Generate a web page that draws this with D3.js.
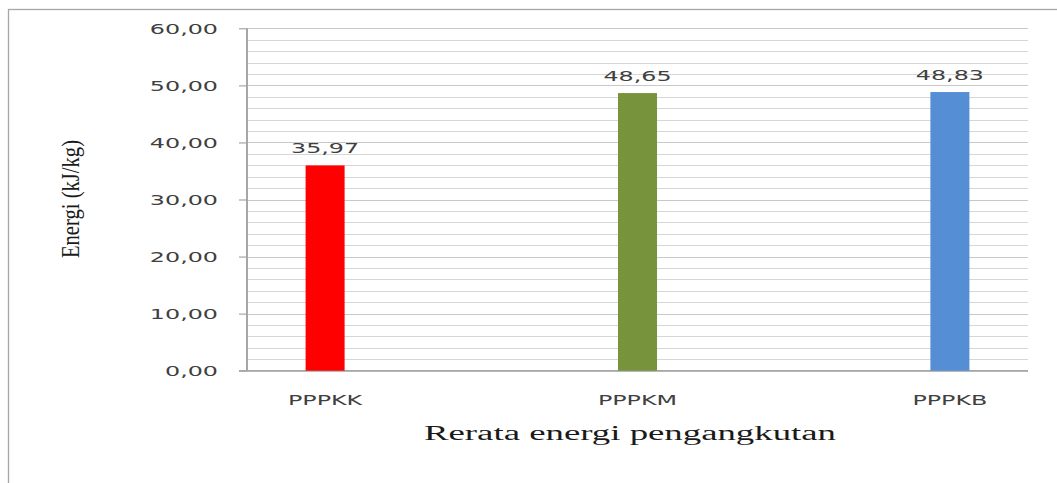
<!DOCTYPE html>
<html>
<head>
<meta charset="utf-8">
<script src="https://cdn.jsdelivr.net/npm/d3@7"></script>
<style>
  html, body { margin: 0; padding: 0; background: #fff; }
  svg { display: block; }
</style>
</head>
<body>
<svg id="chart" width="1057" height="483"></svg>
<script>
const categories = ["PPPKK", "PPPKM", "PPPKB"];
const values = [35.97, 48.65, 48.83];
const valueLabels = ["35,97", "48,65", "48,83"];
const barColors = ["#ff0000", "#77933c", "#558ed5"];
const yTicks = [0, 10, 20, 30, 40, 50, 60];
const yMinorTicks = d3.range(0, 60.001, 2);
const yTitle = "Energi (kJ/kg)";
const xTitle = "Rerata energi pengangkutan";

(function() {
const svg = d3.select("#chart");
const pL = 247, pR = 1028, pT = 28.3, pB = 370.7;
const sansStretch = 1.7;

function stretch(sel, f) {
  sel.each(function() {
    const w = this.getComputedTextLength();
    d3.select(this).attr("textLength", w * f).attr("lengthAdjust", "spacingAndGlyphs");
  });
}

// outer border
svg.append("rect").attr("x", 8.5).attr("y", 9.5).attr("width", 1200).attr("height", 600)
  .attr("fill", "none").attr("stroke", "#a6a6a6").attr("stroke-width", 1.3);

const y = d3.scaleLinear().domain([0, 60]).range([pB, pT]);
const x = d3.scalePoint().domain(categories).range([pL, pR]).padding(0.25);

// gridlines (minor every 2)
svg.append("g").selectAll("line").data(yMinorTicks).join("line")
  .attr("x1", pL).attr("x2", pR)
  .attr("y1", d => Math.round(y(d)) + 0.5).attr("y2", d => Math.round(y(d)) + 0.5)
  .attr("stroke", d => d % 10 === 0 ? "#c8c8c8" : "#d6d6d6").attr("stroke-width", 1.2);

// y axis
const yAxis = svg.append("g").attr("transform", `translate(${pL},0)`)
  .call(d3.axisLeft(y).tickValues(yTicks).tickSize(8).tickPadding(21)
    .tickFormat(d => d3.format(".2f")(d).replace(".", ",")));
yAxis.select(".domain").attr("stroke", "#a6a6a6").attr("stroke-width", 2).attr("d", `M0,${pT}V${pB}`);
yAxis.selectAll(".tick line").attr("stroke", "#a6a6a6").attr("stroke-width", 1.2);
yAxis.selectAll(".tick text").attr("fill", "#404040").attr("font-family", "DejaVu Sans")
  .attr("font-size", 14).attr("dy", "0.36em").call(stretch, sansStretch);

// x axis line
svg.append("line").attr("x1", pL - 8).attr("x2", pR)
  .attr("y1", pB).attr("y2", pB).attr("stroke", "#a6a6a6").attr("stroke-width", 1.5);

// bars
const bw = 39;
svg.append("g").selectAll("rect").data(values).join("rect")
  .attr("x", (d, i) => x(categories[i]) - bw / 2)
  .attr("width", bw)
  .attr("y", d => y(d))
  .attr("height", d => pB - y(d))
  .attr("fill", (d, i) => barColors[i]);

// value labels
svg.append("g").selectAll("text").data(values).join("text")
  .attr("x", (d, i) => x(categories[i]))
  .attr("y", d => y(d) - 12)
  .attr("text-anchor", "middle")
  .attr("font-family", "DejaVu Sans").attr("font-size", 14).attr("fill", "#404040")
  .text((d, i) => valueLabels[i])
  .call(stretch, sansStretch);

// category labels
svg.append("g").selectAll("text").data(categories).join("text")
  .attr("x", d => x(d)).attr("y", 405)
  .attr("text-anchor", "middle")
  .attr("font-family", "DejaVu Sans").attr("font-size", 14).attr("fill", "#404040")
  .text(d => d)
  .call(stretch, sansStretch);

// x title
svg.append("text").attr("x", 630).attr("y", 440).attr("text-anchor", "middle")
  .attr("font-family", "Liberation Serif").attr("font-size", 20).attr("fill", "#1a1a1a")
  .text(xTitle)
  .attr("textLength", 412).attr("lengthAdjust", "spacingAndGlyphs");

// y title
svg.append("text").attr("transform", "translate(79,199) rotate(-90)")
  .attr("text-anchor", "middle")
  .attr("font-family", "Liberation Serif").attr("font-size", 25).attr("fill", "#1a1a1a")
  .text(yTitle)
  .attr("textLength", 118).attr("lengthAdjust", "spacingAndGlyphs");
})();
</script>
</body>
</html>
